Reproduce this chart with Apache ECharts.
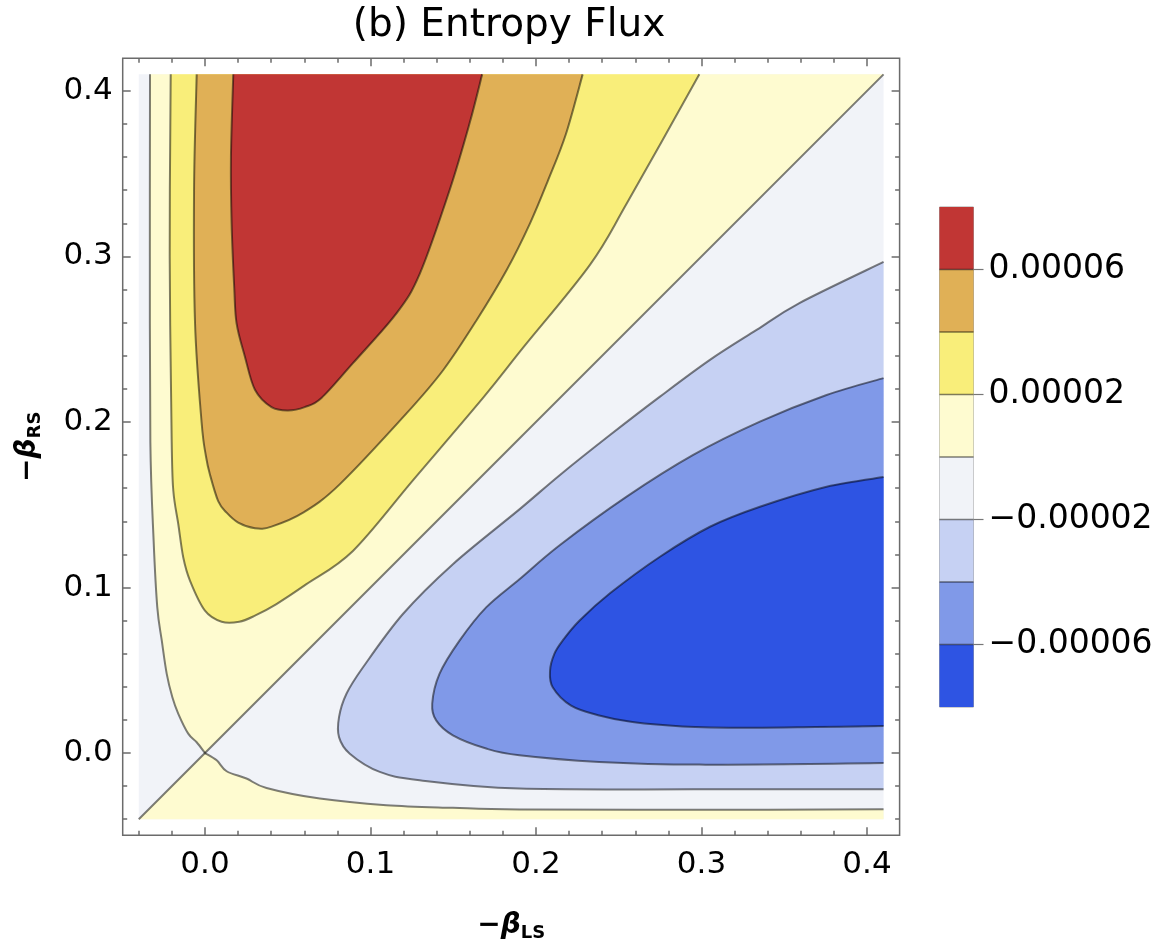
<!DOCTYPE html>
<html>
<head>
<meta charset="utf-8">
<title>(b) Entropy Flux</title>
<script src="https://cdn.jsdelivr.net/npm/echarts@6/dist/echarts.min.js"></script>
<style>
html, body { margin: 0; padding: 0; background: #fff; }
#main { width: 1170px; height: 952px; }
</style>
</head>
<body>
<div id="main"></div>
<script>
// contour levels and the colour of each band between two levels
var levels = [-0.00008, -0.00006, -0.00004, -0.00002, 0, 0.00002, 0.00004, 0.00006, 0.00008];
var bandColors = ['#2e54e3', '#8099e8', '#c6d1f3', '#f1f3f8', '#fefbd0', '#f9ee7a', '#e0b056', '#c13634'];
var barLabels = [-0.00006, -0.00002, 0.00002, 0.00006];

// frame ticks
var majorTicks = [0, 0.1, 0.2, 0.3, 0.4];
var minorTicks = [-0.04, -0.02, 0.02, 0.04, 0.06, 0.08, 0.12, 0.14, 0.16, 0.18,
	0.22, 0.24, 0.26, 0.28, 0.32, 0.34, 0.36, 0.38];

// sampled box
var dataX = [-0.04, 0.41];
var dataY = [-0.04, 0.41];

// contour lines, points are [-beta_LS, -beta_RS]
var zeroDiagonal = [[-0.04, -0.04], [0.41, 0.41]];
var zeroLeft = [[-0.0332, 0.41], [-0.0333, 0.30], [-0.033, 0.188], [-0.031, 0.128], [-0.0288, 0.088],
	[-0.0261, 0.068], [-0.0231, 0.0478], [-0.0197, 0.0337], [-0.0161, 0.0237], [-0.0101, 0.0117],
	[-0.005, 0.0065], [0, 0]];
var zeroBottom = [[0, 0], [0.0071, -0.0044], [0.0131, -0.011], [0.0251, -0.0154], [0.0372, -0.0211],
	[0.0694, -0.0275], [0.1096, -0.0315], [0.1498, -0.0331], [0.19, -0.0341], [0.30, -0.0343], [0.41, -0.034]];
var pos2 = [[-0.0207, 0.41], [-0.0213, 0.30], [-0.0201, 0.188], [-0.0191, 0.1583], [-0.0161, 0.1382],
	[-0.0131, 0.1181], [-0.009, 0.104], [0.0, 0.086], [0.0101, 0.0793], [0.0207, 0.0793], [0.0302, 0.083],
	[0.0432, 0.09], [0.0613, 0.102], [0.0894, 0.1221], [0.1259, 0.165], [0.168, 0.2145], [0.1921, 0.2447],
	[0.2326, 0.2949], [0.2556, 0.3333], [0.2987, 0.41]];
var pos4 = [[-0.005, 0.41], [-0.0066, 0.34], [-0.006, 0.2596], [-0.002, 0.1994], [0.0006, 0.1793],
	[0.003, 0.1683], [0.008, 0.1522], [0.0131, 0.1452], [0.0201, 0.1392], [0.0302, 0.1358], [0.0402, 0.1368],
	[0.0593, 0.1452], [0.0814, 0.1623], [0.1219, 0.2053], [0.144, 0.2314], [0.1642, 0.2616],
	[0.1823, 0.2918], [0.1964, 0.32], [0.2074, 0.3462], [0.2181, 0.374], [0.2282, 0.41]];
var pos6 = [[0.0171, 0.41], [0.0157, 0.36], [0.0161, 0.3199], [0.0177, 0.2808], [0.0191, 0.2596],
	[0.0241, 0.2396], [0.0302, 0.2195], [0.0402, 0.209], [0.0502, 0.207], [0.0603, 0.209], [0.0704, 0.2145],
	[0.0894, 0.2355], [0.1158, 0.2657], [0.1299, 0.2898], [0.1478, 0.34], [0.1598, 0.3801], [0.1675, 0.41]];
var neg2 = [[0.41, 0.2967], [0.3589, 0.2717], [0.3333, 0.2556], [0.3051, 0.2375], [0.2749, 0.2153],
	[0.2447, 0.1921], [0.2145, 0.168], [0.19, 0.1472], [0.1498, 0.1141], [0.1196, 0.084], [0.0955, 0.0518],
	[0.0855, 0.0358], [0.081, 0.0217], [0.081, 0.0096], [0.0875, -0.0004], [0.1056, -0.0114],
	[0.1297, -0.0164], [0.19, -0.0215], [0.30, -0.0219], [0.41, -0.0219]];
var neg4 = [[0.41, 0.2265], [0.3756, 0.2163], [0.3353, 0.2002], [0.295, 0.1801], [0.2548, 0.1549],
	[0.2145, 0.1257], [0.19, 0.105], [0.1699, 0.088], [0.1538, 0.0679], [0.1417, 0.0478],
	[0.1373, 0.0298], [0.1397, 0.0197], [0.1498, 0.0107], [0.1699, 0.0027], [0.19, -0.0014],
	[0.2382, -0.0054], [0.2986, -0.007], [0.41, -0.006]];
var neg6 = [[0.41, 0.1667], [0.3756, 0.1609], [0.3353, 0.1488], [0.3051, 0.1367], [0.2749, 0.1186],
	[0.2447, 0.0965], [0.2262, 0.0799], [0.2161, 0.0679], [0.2111, 0.0599], [0.2085, 0.0498], [0.2101, 0.0398],
	[0.2212, 0.0287], [0.2382, 0.0227], [0.2583, 0.0187], [0.2885, 0.0161], [0.3287, 0.0153],
	[0.3689, 0.0157], [0.41, 0.0163]];

// filled regions, painted in order; each part is a contour piece, pieces are joined by straight edges
var regions = [
	{ parts: [[[dataX[0], dataY[0]]], [[dataX[1], dataY[0]]], [[dataX[1], dataY[1]]], [[dataX[0], dataY[1]]]], band: 3 },
	{ parts: [zeroLeft, [zeroDiagonal[1]]], band: 4 },
	{ parts: [[zeroDiagonal[0]], zeroBottom, [[dataX[1], dataY[0]]]], band: 4 },
	{ parts: [pos2], band: 5 },
	{ parts: [pos4], band: 6 },
	{ parts: [pos6], band: 7 },
	{ parts: [neg2], band: 2 },
	{ parts: [neg4], band: 1 },
	{ parts: [neg6], band: 0 }
];
var lines = [zeroDiagonal, zeroLeft, zeroBottom, pos2, pos4, pos6, neg2, neg4, neg6];

var FONT = 'DejaVu Sans';
var frameColor = '#6b6b6b';
var contourStroke = 'rgba(0,0,0,0.5)';

// curve through pixel points (catmull-rom as cubic beziers), starting at px[0]
function curvePath(px) {
	var s = '';
	for (var i = 0; i < px.length - 1; i++) {
		var p0 = px[i - 1] || px[i], p1 = px[i], p2 = px[i + 1], p3 = px[i + 2] || px[i + 1];
		var c1 = [p1[0] + (p2[0] - p0[0]) / 6, p1[1] + (p2[1] - p0[1]) / 6];
		var c2 = [p2[0] - (p3[0] - p1[0]) / 6, p2[1] - (p3[1] - p1[1]) / 6];
		s += 'C' + c1.join(',') + ' ' + c2.join(',') + ' ' + p2.join(',');
	}
	return s;
}

function toPx(api, arr) {
	return arr.map(function (p) { return api.coord(p); });
}

function frameAxis(pos, ticks, len, withLabels) {
	var ax = {
		type: 'value', gridIndex: 0, position: pos, z: 10,
		min: -0.0497, max: 0.4197,
		axisLine: { show: false, onZero: false },
		splitLine: { show: false },
		axisTick: { show: true, inside: true, length: len, customValues: ticks,
			lineStyle: { color: frameColor, width: 1.5 } },
		axisLabel: { show: false }
	};
	if (withLabels) {
		ax.axisLabel = {
			show: true, customValues: ticks,
			fontFamily: FONT, fontSize: 31, color: '#000',
			margin: (pos === 'bottom') ? 14 : 10,
			formatter: function (v) { return v.toFixed(1); }
		};
	}
	return ax;
}

var nameRich = {
	m: { fontFamily: FONT, fontWeight: 'bold', fontSize: 28, lineHeight: 34, color: '#000' },
	b: { fontFamily: FONT, fontWeight: 'bold', fontStyle: 'italic', fontSize: 28, lineHeight: 34, color: '#000' },
	s: { fontFamily: FONT, fontWeight: 'bold', fontSize: 18, lineHeight: 17, verticalAlign: 'bottom', color: '#000' }
};

var xBottom = frameAxis('bottom', majorTicks, 8, true);
xBottom.name = '{m|−}{b|β}{s|LS}';
xBottom.nameLocation = 'middle';
xBottom.nameGap = 73;
xBottom.nameTextStyle = { rich: nameRich };

var yLeft = frameAxis('left', majorTicks, 8, true);
yLeft.name = '{m|−}{b|β}{s|RS}';
yLeft.nameLocation = 'middle';
yLeft.nameGap = 78;
yLeft.nameTextStyle = { rich: nameRich };

var myChart = echarts.init(document.getElementById('main'));
var option = {
	backgroundColor: '#fff',
	animation: false,
	title: {
		text: '(b) Entropy Flux',
		left: 509, top: 6, textAlign: 'center', padding: 0,
		textStyle: { fontFamily: FONT, fontSize: 39, fontWeight: 'normal', color: '#000' }
	},
	grid: [
		{ left: 122.7, top: 58.3, width: 776.9, height: 777, show: true,
			borderColor: frameColor, borderWidth: 1.5, backgroundColor: 'transparent' },
		{ left: 939.5, top: 207, width: 34, height: 500, show: true,
			borderColor: '#a0a0a0', borderWidth: 1, backgroundColor: 'transparent' }
	],
	xAxis: [
		xBottom,
		frameAxis('bottom', minorTicks, 4.5, false),
		frameAxis('top', majorTicks, 8, false),
		frameAxis('top', minorTicks, 4.5, false),
		{ type: 'value', gridIndex: 1, min: 0, max: 1, show: false }
	],
	yAxis: [
		yLeft,
		frameAxis('left', minorTicks, 4.5, false),
		frameAxis('right', majorTicks, 8, false),
		frameAxis('right', minorTicks, 4.5, false),
		{
			type: 'value', gridIndex: 1, position: 'right', z: 10,
			min: levels[0], max: levels[levels.length - 1],
			axisLine: { show: false, onZero: false },
			splitLine: { show: false },
			axisTick: { show: true, inside: false, length: 10, customValues: barLabels,
				lineStyle: { color: '#777', width: 1.2 } },
			axisLabel: {
				show: true, customValues: barLabels, margin: 15,
				fontFamily: FONT, fontSize: 33, color: '#000',
				formatter: function (v) { return (v < 0 ? '−' : '') + Math.abs(v).toFixed(5); }
			}
		}
	],
	series: [
		{
			// filled contour bands
			type: 'custom', xAxisIndex: 0, yAxisIndex: 0, silent: true, z: 2,
			data: regions.map(function (r, i) { return [i]; }),
			renderItem: function (params, api) {
				var r = regions[params.dataIndex];
				var d = '';
				r.parts.forEach(function (part) {
					var px = toPx(api, part);
					d += (d ? 'L' : 'M') + px[0].join(',') + curvePath(px);
				});
				return {
					type: 'path',
					shape: { pathData: d + 'Z' },
					style: { fill: bandColors[r.band], stroke: null }
				};
			}
		},
		{
			// contour lines
			type: 'custom', xAxisIndex: 0, yAxisIndex: 0, silent: true, z: 3,
			data: lines.map(function (l, i) { return [i]; }),
			renderItem: function (params, api) {
				var px = toPx(api, lines[params.dataIndex]);
				return {
					type: 'path',
					shape: { pathData: 'M' + px[0].join(',') + curvePath(px) },
					style: { fill: null, stroke: contourStroke, lineWidth: 2, lineJoin: 'round' }
				};
			}
		},
		{
			// colour bar
			type: 'custom', xAxisIndex: 4, yAxisIndex: 4, silent: true, z: 2,
			data: bandColors.map(function (c, i) { return [i]; }),
			renderItem: function (params, api) {
				var i = params.dataIndex;
				var p0 = api.coord([0, levels[i + 1]]);
				var p1 = api.coord([1, levels[i]]);
				var kids = [{
					type: 'rect',
					shape: { x: p0[0], y: p0[1], width: p1[0] - p0[0], height: p1[1] - p0[1] },
					style: { fill: bandColors[i] }
				}];
				if (i > 0) {
					kids.push({
						type: 'line',
						shape: { x1: p0[0], y1: p1[1], x2: p1[0], y2: p1[1] },
						style: { stroke: contourStroke, lineWidth: 1.6 }
					});
				}
				return { type: 'group', children: kids };
			}
		}
	]
};
myChart.setOption(option);
</script>
</body>
</html>
